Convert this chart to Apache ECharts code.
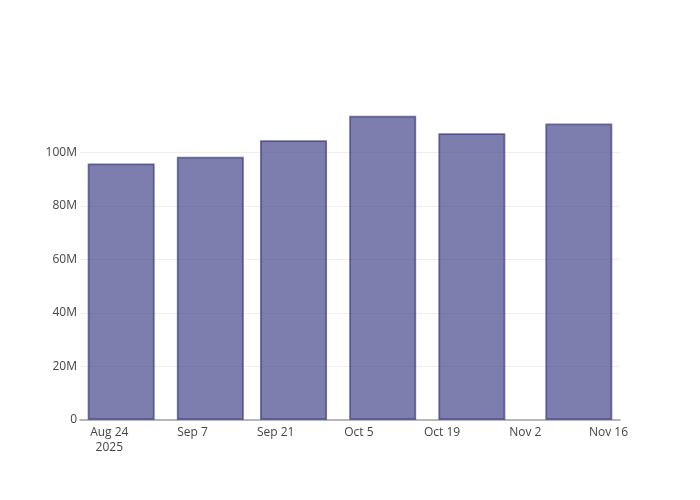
<!DOCTYPE html>
<html>
<head>
<meta charset="utf-8">
<script src="https://cdn.jsdelivr.net/npm/echarts@6/dist/echarts.min.js"></script>
<style>
  html, body { margin: 0; padding: 0; background: #fff; }
  #chart { width: 700px; height: 500px; }
</style>
</head>
<body>
<div id="chart"></div>
<script>
// days counted from Aug 24, 2025
const barDays = [2, 17, 31, 46, 61, 79]
const barValues = [95.8e6, 98.3e6, 104.5e6, 113.6e6, 107.1e6, 110.7e6]
const tickDays = [0, 14, 28, 42, 56, 70, 84]
const tickLabels = ['Aug 24\n2025', 'Sep 7', 'Sep 21', 'Oct 5', 'Oct 19', 'Nov 2', 'Nov 16']

const chart = echarts.init(document.getElementById('chart'))

chart.setOption({
  animation: false,
  textStyle: { fontFamily: 'Open Sans', fontSize: 12, color: '#444' },
  grid: { left: 80, right: 80, top: 100, bottom: 80 },
  xAxis: {
    type: 'value',
    min: -4.93,
    max: 85.93,
    axisLine: { lineStyle: { color: '#a0a0a0', width: 1.5 } },
    axisTick: { show: false },
    splitLine: { show: false },
    axisLabel: {
      customValues: tickDays,
      margin: 5,
      lineHeight: 15,
      color: '#444',
      fontFamily: 'Open Sans',
      fontSize: 12,
      formatter: function (v) {
        const i = tickDays.indexOf(Math.round(v))
        return i >= 0 ? tickLabels[i] : ''
      }
    }
  },
  yAxis: {
    type: 'value',
    min: 0,
    max: 119.5e6,
    interval: 20e6,
    axisLine: { show: false },
    axisTick: { show: false },
    splitLine: {
      showMinLine: false,
      showMaxLine: false,
      lineStyle: { color: '#eee', width: 1 }
    },
    axisLabel: {
      margin: 3,
      showMaxLabel: false,
      color: '#444',
      fontFamily: 'Open Sans',
      fontSize: 12,
      formatter: function (v) {
        return v === 0 ? '0' : Math.round(v / 1e6) + 'M'
      }
    }
  },
  series: [
    {
      type: 'bar',
      barWidth: 67,
      data: barDays.map((d, i) => [d, barValues[i]]),
      itemStyle: {
        color: 'rgb(70,70,140)',
        borderColor: 'rgb(60,60,129)',
        borderWidth: 1.8,
        opacity: 0.7
      }
    }
  ]
})
</script>
</body>
</html>
